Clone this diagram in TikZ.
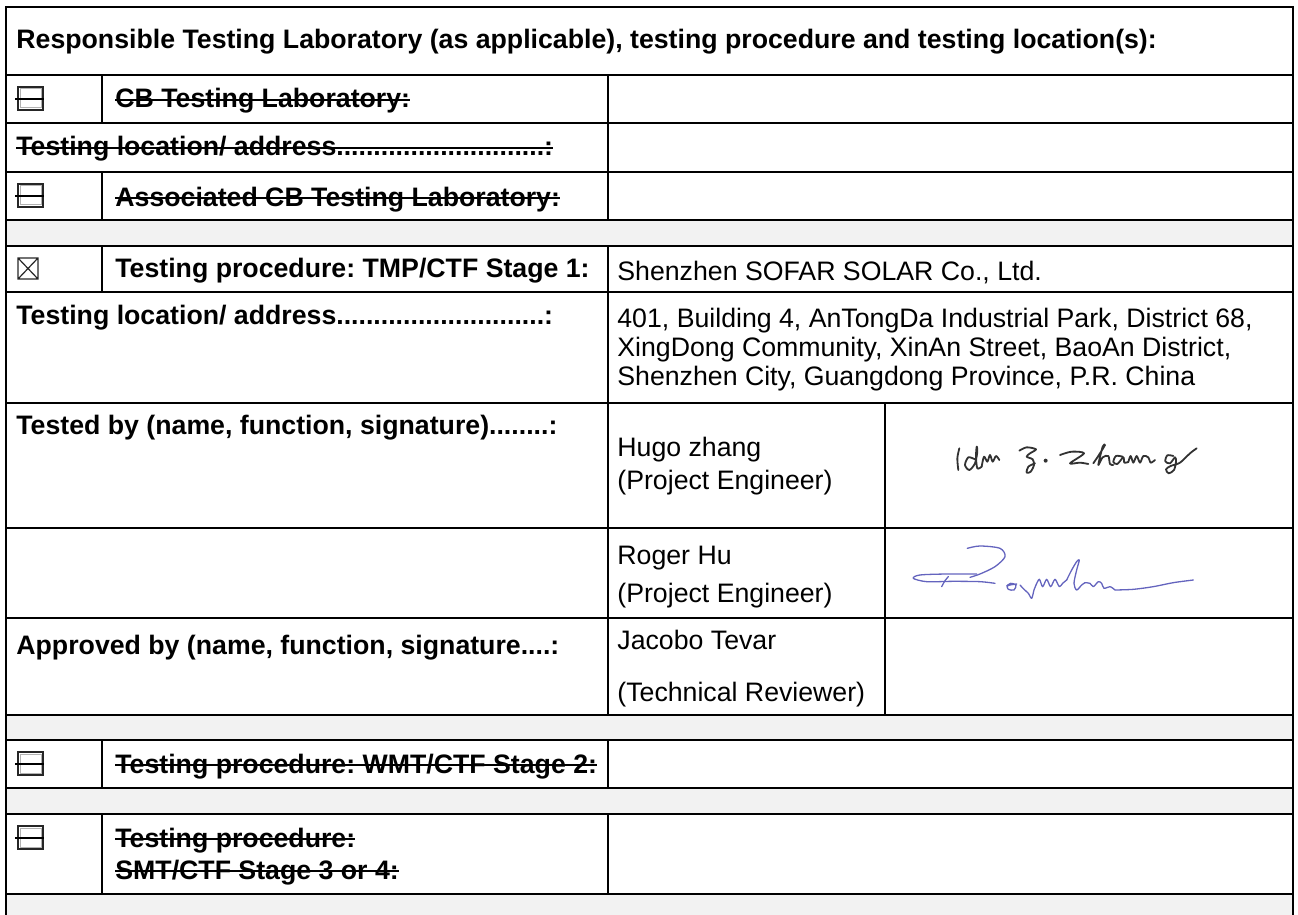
\documentclass[tikz,border=0pt]{standalone}
\usepackage{fontspec}
\setmainfont{Liberation Sans}
\definecolor{rowgray}{RGB}{242, 242, 242}
\definecolor{inkgray}{RGB}{50, 50, 50}
\definecolor{inkblue}{RGB}{100, 100, 190}
\usetikzlibrary{positioning, calc}
\newcommand{\tabfont}{\fontsize{13.35}{15.3}\selectfont}
\newcommand{\strk}[1]{\setbox0\hbox{#1}\rlap{\rule[0.27em]{\wd0}{1.1pt}}\box0}
\frenchspacing

\begin{document}
\begin{tikzpicture}[x=0.5pt, y=-0.5pt,
  rule/.style={line width=0.9pt, black},
  lbl/.style={anchor=base west, inner sep=0pt, font=\bfseries\tabfont},
  val/.style={anchor=base west, inner sep=0pt, font=\tabfont},
  cbox/.style={draw=black!85, line width=0.7pt},
  ink/.style={line width=0.9pt, line cap=round, line join=round}]
  \useasboundingbox (0,0) rectangle (1298,915);

  % Shaded spacer rows
  \foreach \a/\b in {220/246, 715/740, 788/814, 894/915}
    \fill[rowgray] (6,\a) rectangle (1293,\b);

  % Grid lines
  \foreach \y in {75,123,172,220,246,292,403,528,618,715,740,788,814,894}
    \draw[rule] (6,\y) -- (1293,\y);
  \draw[rule] (6,915) -- (6,7) -- (1293,7) -- (1293,915);
  \foreach \a/\b in {75/123, 172/220, 246/292, 740/788, 814/894}
    \draw[rule] (102,\a) -- (102,\b);
  \foreach \a/\b in {75/220, 246/715, 740/788, 814/894}
    \draw[rule] (608,\a) -- (608,\b);
  \draw[rule] (885,403) -- (885,715);

  % Header
  \node[lbl] (title) at (16,49) {Responsible Testing Laboratory (as applicable), testing procedure and testing location(s):};

  % Struck-out check boxes
  \foreach \c in {99, 196, 764, 838} {
    \draw[cbox] (18,\c-12) rectangle (43,\c+11);
    \draw[black!30, line width=0.5pt] (20,\c-10) rectangle (41,\c+9);
    \draw[line width=1.1pt] (15,\c) -- (44,\c);
  }
  % Ticked check box
  \draw[cbox, line width=0.6pt] (18,258) rectangle (38,279)
    (18,258) -- (38,279) (18,279) -- (38,258);

  % CB laboratory rows (not applicable)
  \node[lbl] (cblab) at (115,108) {\strk{CB Testing Laboratory:}};
  \node[lbl] (cbloc) at (16,156) {\strk{Testing location/ address............................:}};
  \node[lbl] (asslab) at (115,206) {\strk{Associated CB Testing Laboratory:}};

  % Stage 1
  \node[lbl] (tmp) at (115,278) {Testing procedure: TMP/CTF Stage 1:};
  \node[val] (tmpname) at (617,280) {Shenzhen SOFAR SOLAR Co., Ltd.};
  \node[lbl] (tmploc) at (16,325) {Testing location/ address............................:};
  \node[val] (addr1) at (617,328) {401, Building 4, AnTongDa Industrial Park, District 68,};
  \node[val] (addr2) at (617,357) {XingDong Community, XinAn Street, BaoAn District,};
  \node[val] (addr3) at (617,386) {Shenzhen City, Guangdong Province, P.R. China};

  % Tested by
  \node[lbl] (tested) at (16,434) {Tested by (name, function, signature)........:};
  \node[val] (hugo) at (617,456) {Hugo zhang};
  \node[val] (hugofn) at (617,489) {(Project Engineer)};
  \node[val] (roger) at (617,564) {Roger Hu};
  \node[val] (rogerfn) at (617,602) {(Project Engineer)};

  % Approved by
  \node[lbl] (approved) at (16,654) {Approved by (name, function, signature....:};
  \node[val] (jacobo) at (617,649) {Jacobo Tevar};
  \node[val] (jacobofn) at (617,701) {(Technical Reviewer)};

  % Stages 2 to 4 (not applicable)
  \node[lbl] (wmt) at (115,773) {\strk{Testing procedure: WMT/CTF Stage 2:}};
  \node[lbl] (smt) at (115,847) {\strk{Testing procedure:}};
  \node[lbl] (smtstage) at (115,879) {\strk{SMT/CTF Stage 3 or 4:}};

  % Signature: Hugo zhang
  \begin{scope}[shift={(880,420)}, scale=1/3, inkgray, ink]
    \draw plot[smooth] coordinates {(238,85) (232,115) (235,150)};
    \draw plot[smooth] coordinates {(285,118) (265,112) (255,135) (268,150) (285,130) (292,95) (290,80) (288,110) (292,145) (305,140)};
    \draw plot[smooth] coordinates {(305,140) (312,110) (322,125) (330,105) (338,125) (348,108) (358,120)};
    \draw plot[smooth] coordinates {(418,92) (440,82) (468,88) (450,100) (440,110) (458,118) (462,135) (452,155) (440,158) (445,140) (465,130)};
    \fill (497,122) circle (6);
    \draw plot[smooth] coordinates {(540,105) (575,95) (612,100) (570,130) (600,128) (625,132)};
    \draw plot[smooth] coordinates {(640,130) (660,100) (675,75) (668,80) (655,135) (668,112) (685,108) (690,132) (700,135)};
    \draw plot[smooth] coordinates {(728,110) (708,108) (700,126) (712,132) (730,112) (733,128) (745,126)};
    \draw plot[smooth] coordinates {(745,126) (752,108) (760,128) (770,108) (780,128) (790,108) (805,112) (812,128) (825,120)};
    \draw plot[smooth] coordinates {(880,108) (862,106) (856,124) (870,130) (885,112) (888,125) (882,150) (866,160) (858,148) (872,138) (900,128) (930,100) (950,85)};
  \end{scope}

  % Signature: Roger Hu
  \begin{scope}[shift={(880,420)}, scale=1/3, inkblue, ink, line width=0.65pt]
    \draw plot[smooth] coordinates {(262,385) (300,378) (360,385) (375,410) (345,440) (300,462) (270,472)};
    \draw plot[smooth] coordinates {(290,462) (200,462) (120,465) (100,475) (140,485) (220,484) (300,485) (345,490)};
    \draw plot[smooth] coordinates {(205,470) (195,482) (185,500)};
    \draw plot[smooth] coordinates {(380,498) (392,490) (408,495) (402,510) (385,508) (383,497) (410,492)};
    \draw plot[smooth] coordinates {(420,495) (432,508) (445,520) (455,535) (462,510) (468,495)};
    \draw plot[smooth] coordinates {(468,495) (478,478) (488,500) (500,478) (512,500) (525,478) (538,500) (548,490) (560,480)};
    \draw plot[smooth] coordinates {(560,480) (575,450) (590,425) (598,420) (590,450) (582,490) (590,510) (605,495) (615,488)};
    \draw plot[smooth] coordinates {(615,488) (630,490) (640,500) (655,485) (665,490) (672,505) (690,500) (705,510)};
    \draw plot[smooth] coordinates {(705,510) (760,508) (820,500) (880,488) (940,480)};
  \end{scope}
\end{tikzpicture}
\end{document}
